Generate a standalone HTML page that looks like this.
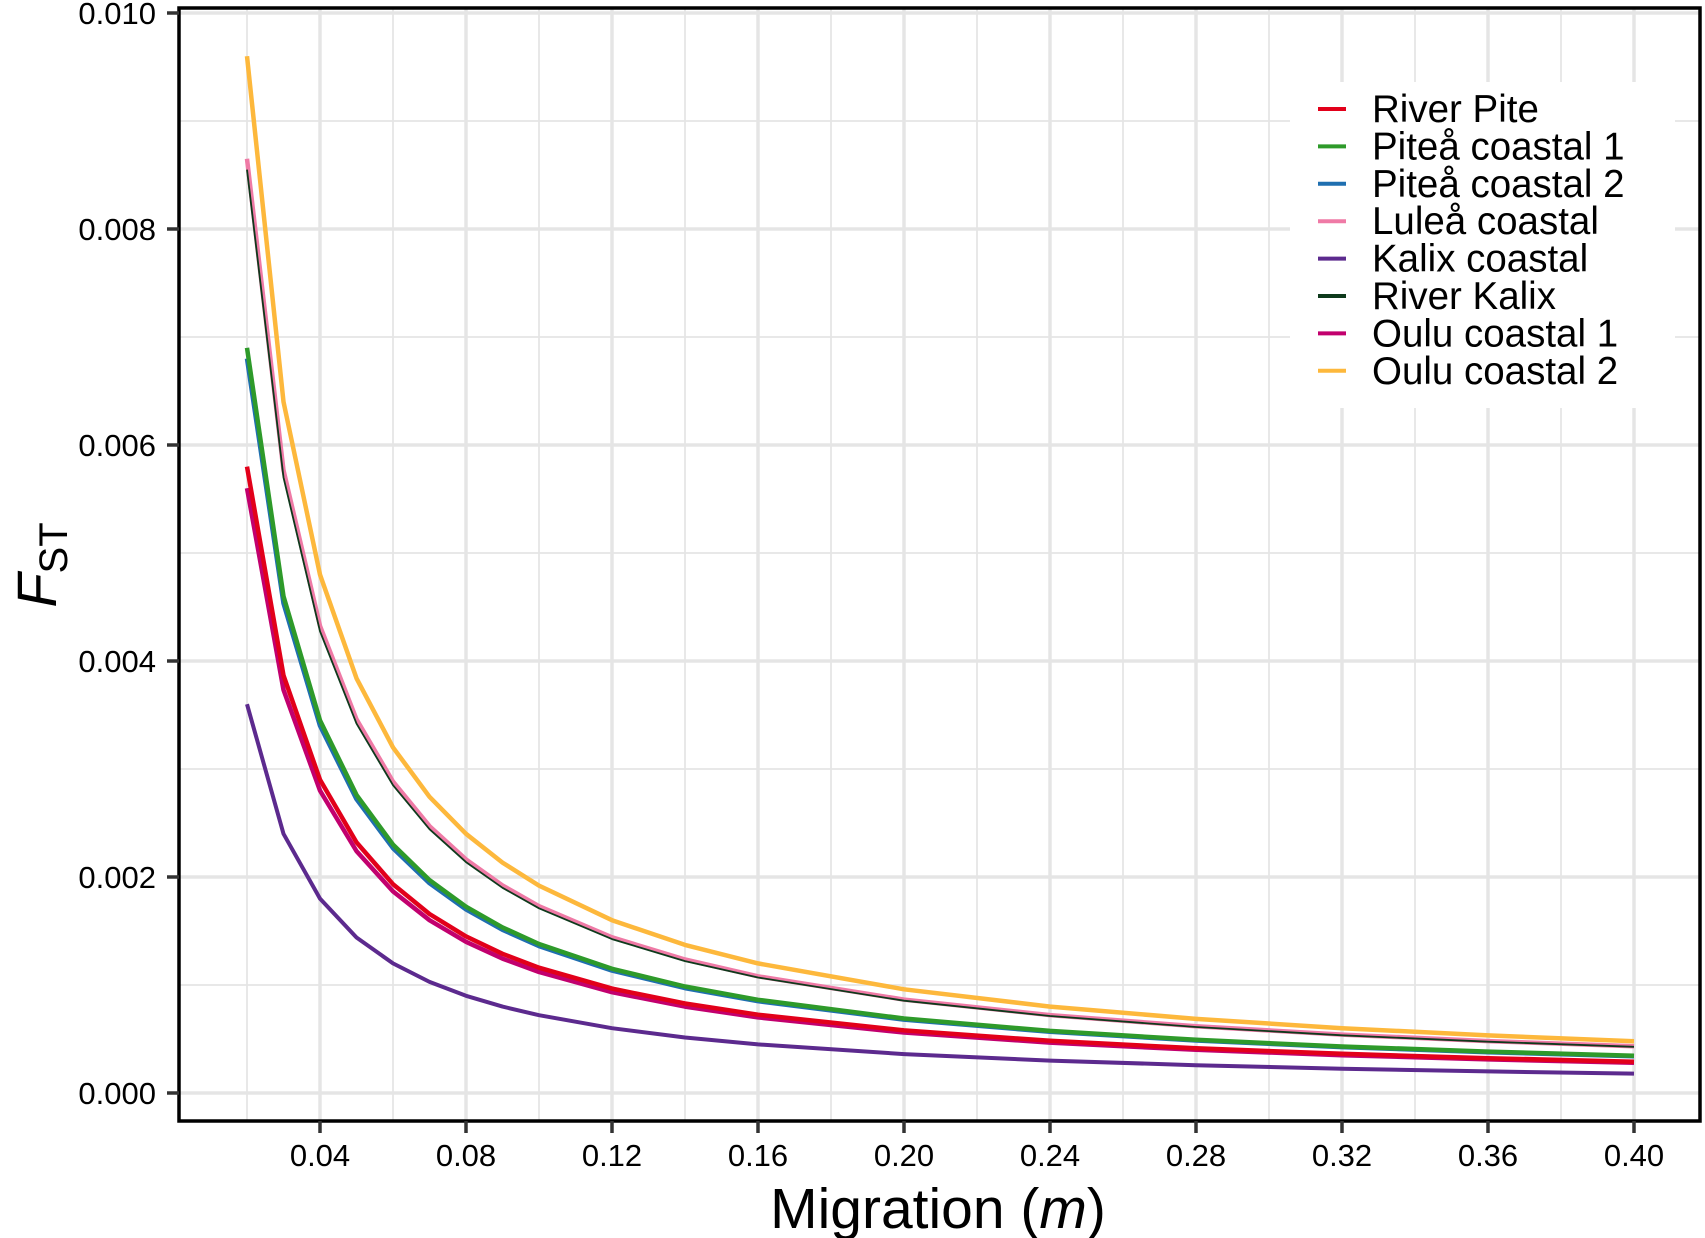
<!DOCTYPE html>
<html><head><meta charset="utf-8"><style>
body{margin:0;background:#fff;}
svg{display:block;font-family:"Liberation Sans",sans-serif;}
</style></head><body>
<svg id="chart" width="1705" height="1238" viewBox="0 0 1705 1238" xmlns="http://www.w3.org/2000/svg">
<g id="grid"></g>
<g id="series"></g>
<rect x="179" y="8" width="1521" height="1113" fill="none" stroke="#000" stroke-width="3.5"/>
<g id="axes"></g>
<text x="938" y="1228" font-size="57" text-anchor="middle">Migration (<tspan font-style="italic">m</tspan>)</text>
<text transform="translate(56,565) rotate(-90)" font-size="56" text-anchor="middle"><tspan font-style="italic">F</tspan><tspan font-size="40" dy="11">ST</tspan></text>
<g id="legend"></g>
</svg>
<script>
const mVals=[0.02,0.03,0.04,0.05,0.06,0.07,0.08,0.09,0.10,0.12,0.14,0.16,0.20,0.24,0.28,0.32,0.36,0.40];
const names=["River Pite","Piteå coastal 1","Piteå coastal 2","Luleå coastal","Kalix coastal","River Kalix","Oulu coastal 1","Oulu coastal 2"];
const colors=["#e2001a","#2e9a2a","#1f6fb0","#ef7aa6","#5c2a8e","#0e3a1c","#c2006e","#fdb83c"];
const widths=[4.5,4.5,4.5,4.5,4,1.8,4.5,4.5];
// values in units of 0.001
const riverPite=[5.8,3.867,2.9,2.32,1.933,1.657,1.45,1.289,1.16,0.967,0.829,0.725,0.58,0.483,0.414,0.3625,0.322,0.29];
const pitea1=[6.9,4.6,3.45,2.76,2.3,1.971,1.725,1.533,1.38,1.15,0.986,0.863,0.69,0.575,0.493,0.431,0.383,0.345];
const pitea2=[6.8,4.533,3.4,2.72,2.267,1.943,1.7,1.511,1.36,1.133,0.971,0.85,0.68,0.567,0.486,0.425,0.378,0.34];
const lulea=[8.65,5.767,4.325,3.46,2.883,2.471,2.163,1.922,1.73,1.442,1.236,1.081,0.865,0.721,0.618,0.541,0.481,0.433];
const kalixCoastal=[3.6,2.4,1.8,1.44,1.2,1.029,0.9,0.8,0.72,0.6,0.514,0.45,0.36,0.3,0.257,0.225,0.2,0.18];
const riverKalix=[8.55,5.7,4.275,3.42,2.85,2.443,2.138,1.9,1.71,1.425,1.221,1.069,0.855,0.713,0.611,0.534,0.475,0.428];
const oulu1=[5.6,3.733,2.8,2.24,1.867,1.6,1.4,1.244,1.12,0.933,0.8,0.7,0.56,0.467,0.4,0.35,0.311,0.28];
const oulu2=[9.6,6.4,4.8,3.84,3.2,2.743,2.4,2.133,1.92,1.6,1.371,1.2,0.96,0.8,0.686,0.6,0.533,0.48];
const xTicks=[0.04,0.08,0.12,0.16,0.20,0.24,0.28,0.32,0.36,0.40];
const xTickLabels=["0.04","0.08","0.12","0.16","0.20","0.24","0.28","0.32","0.36","0.40"];
const yTicks=[0,2,4,6,8,10];
const yTickLabels=["0.000","0.002","0.004","0.006","0.008","0.010"];

const NS="http://www.w3.org/2000/svg";
const X=m=>174+m*3650;
const Y=v=>1093-v*108;
function mk(tag,attrs,parent){const e=document.createElementNS(NS,tag);for(const k in attrs)e.setAttribute(k,attrs[k]);parent.appendChild(e);return e;}
const grid=document.getElementById('grid');
for(let i=1;i<=20;i++){const m=i*0.02;const major=i%2===0;
 const l=mk('line',{x1:X(m),x2:X(m),y1:8,y2:1121,stroke:'#e5e5e5','stroke-width':major?3.5:1.8},grid);
 
 }
for(let v=0;v<=11;v++){if(Y(v)<8)continue;const major=v%2===0;
 const l=mk('line',{x1:179,x2:1700,y1:Y(v),y2:Y(v),stroke:'#e5e5e5','stroke-width':major?3.5:1.8},grid);
 
 }
const seriesData=[riverPite,pitea1,pitea2,lulea,kalixCoastal,riverKalix,oulu1,oulu2];
const order=[7,3,5,2,1,6,0,4];
const sg=document.getElementById('series');
order.forEach(i=>{const d=seriesData[i].map((v,j)=>(j?'L':'M')+X(mVals[j]).toFixed(1)+','+Y(v).toFixed(1)).join('');
 const p=mk('path',{d:d,fill:'none',stroke:colors[i],'stroke-width':widths[i],'stroke-linejoin':'round'},sg);
 
 });
const ax=document.getElementById('axes');
xTicks.forEach((m,i)=>{mk('line',{x1:X(m),x2:X(m),y1:1121,y2:1133,stroke:'#333','stroke-width':3.5},ax);
 const t=mk('text',{x:X(m),y:1166,'font-size':31,'text-anchor':'middle',fill:'#000'},ax);t.textContent=xTickLabels[i];
 
 });
yTicks.forEach((v,i)=>{mk('line',{x1:167,x2:179,y1:Y(v),y2:Y(v),stroke:'#333','stroke-width':3.5},ax);
 const t=mk('text',{x:156,y:Y(v)+11,'font-size':31,'text-anchor':'end',fill:'#000'},ax);t.textContent=yTickLabels[i];
 
 });
const lg=document.getElementById('legend');
mk('rect',{x:1290,y:82,width:385,height:326,fill:'#fff'},lg);
names.forEach((n,i)=>{const y=109+i*37.4;
 const l=mk('line',{x1:1318,x2:1346,y1:y,y2:y,stroke:colors[i],'stroke-width':4},lg);
 
 
 const t=mk('text',{x:1372,y:y+13,'font-size':38.5,fill:'#000'},lg);t.textContent=n;
 
 });
</script>
</body></html>
